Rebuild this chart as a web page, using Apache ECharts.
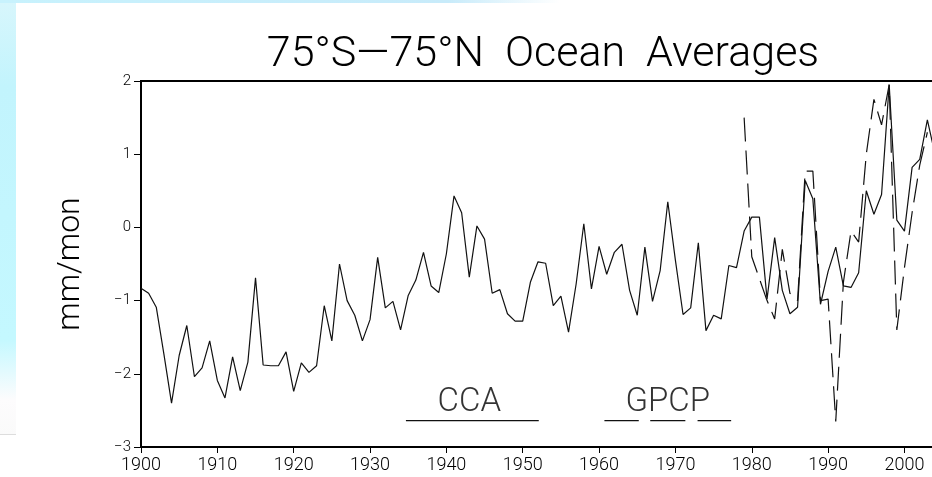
<!DOCTYPE html>
<html>
<head>
<meta charset="utf-8">
<title>75°S-75°N Ocean Averages</title>
<script src="https://cdn.jsdelivr.net/npm/echarts@6/dist/echarts.min.js"></script>
<style>
  html, body { margin: 0; padding: 0; background: #fff; }
  #chart { width: 932px; height: 477px; }
</style>
</head>
<body>
<div id="chart"></div>
<script>
// reconstruction (solid), one value per year from 1900
var reconStart = 1900;
var reconValues = [
    -0.83, -0.90, -1.09, -1.73, -2.40, -1.75, -1.34, -2.04, -1.92, -1.55,
    -2.09, -2.33, -1.77, -2.23, -1.84, -0.69, -1.88, -1.89, -1.89, -1.70,
    -2.24, -1.85, -1.98, -1.89, -1.07, -1.55, -0.50, -1.00, -1.20, -1.55,
    -1.26, -0.41, -1.10, -1.01, -1.40, -0.93, -0.72, -0.34, -0.80, -0.89,
    -0.36, 0.43, 0.20, -0.68, 0.02, -0.16, -0.90, -0.85, -1.18, -1.28,
    -1.28, -0.75, -0.47, -0.49, -1.07, -0.94, -1.43, -0.77, 0.05, -0.84,
    -0.26, -0.64, -0.34, -0.23, -0.86, -1.20, -0.27, -1.01, -0.59, 0.35,
    -0.45, -1.19, -1.10, -0.21, -1.41, -1.20, -1.25, -0.52, -0.55, -0.05,
    0.14, 0.14, -0.98, -0.14, -0.86, -1.18, -1.09, 0.64, 0.39, -1.05,
    -0.60, -0.27, -0.80, -0.82, -0.62, 0.50, 0.18, 0.45, 1.95, 0.10,
    -0.05, 0.82, 0.93, 1.47, 1.00
];

// GPCP (dashed), from 1979
var gpcpStart = 1979;
var gpcpValues = [
    1.50, -0.40, -0.70, -1.00, -1.25, -0.30, -0.90, -1.00, 0.77, 0.77,
    -1.00, -0.98, -2.65, -0.75, -0.05, -0.20, 1.00, 1.75, 1.40, 1.95,
    -1.40, -0.55, 0.20, 0.85, 1.30
];

// data periods drawn near the bottom
var ccaSpans = [[1934.7, 1952.1]];
var gpcpSpans = [[1960.7, 1965.2], [1966.7, 1971.3], [1972.9, 1977.3]];
var spanLevel = -2.64;
var periodNames = ['CCA', 'GPCP'];
var periodNameYears = [1943.0, 1969.0];
var periodNameLevel = -2.40;

function toPairs(start, vals) {
    return vals.map(function (v, i) { return [start + i, v]; });
}

function spansToLine(spans) {
    var out = [];
    spans.forEach(function (s, i) {
        if (i > 0) out.push(null);
        out.push([s[0], spanLevel], [s[1], spanLevel]);
    });
    return out;
}

var font = 'Roboto';
var myChart = echarts.init(document.getElementById('chart'));

myChart.setOption({
    animation: false,
    backgroundColor: '#fff',
    graphic: [
        {   // slide band on the left
            type: 'rect', silent: true,
            shape: { x: 0, y: 0, width: 16, height: 435 },
            style: {
                fill: new echarts.graphic.LinearGradient(0, 0, 0, 1, [
                    { offset: 0, color: '#d8f6fc' },
                    { offset: 0.2, color: '#c2f4fd' },
                    { offset: 0.78, color: '#c4f8ff' },
                    { offset: 0.92, color: '#fdfcfd' },
                    { offset: 1, color: '#fafafa' }
                ])
            }
        },
        {
            type: 'rect', silent: true,
            shape: { x: 0, y: 434, width: 16, height: 1 },
            style: { fill: '#dddddd' }
        },
        {   // slide band on top
            type: 'rect', silent: true,
            shape: { x: 0, y: 0, width: 560, height: 3 },
            style: {
                fill: new echarts.graphic.LinearGradient(0, 0, 1, 0, [
                    { offset: 0, color: '#c8f2fd' },
                    { offset: 0.8, color: '#c8ebfa' },
                    { offset: 1, color: '#ffffff' }
                ])
            }
        }
    ],
    title: {
        text: '75°S—75°N  Ocean  Averages',
        left: 538,
        textAlign: 'center',
        top: 29,
        textStyle: {
            fontFamily: font,
            fontWeight: 300,
            fontSize: 43,
            color: '#000'
        }
    },
    grid: {
        left: 141,
        right: -3,
        top: 81,
        bottom: 30,
        outerBoundsMode: 'none',
        containLabel: false,
        show: true,
        borderColor: '#000',
        borderWidth: 2,
        backgroundColor: 'transparent'
    },
    xAxis: {
        type: 'value',
        min: 1900,
        max: 2004,
        interval: 10,
        splitLine: { show: false },
        axisLine: { onZero: false, lineStyle: { color: '#000', width: 2 } },
        axisTick: { length: 6, lineStyle: { color: '#000', width: 1 } },
        axisLabel: {
            margin: 9,
            fontFamily: font,
            fontWeight: 300,
            fontSize: 18,
            color: '#000',
            formatter: function (v) { return v % 10 === 0 ? String(v) : ''; }
        }
    },
    yAxis: {
        type: 'value',
        min: -3,
        max: 2,
        interval: 1,
        name: 'mm/mon',
        nameLocation: 'middle',
        nameRotate: 90,
        nameGap: 54,
        nameTextStyle: {
            fontFamily: font,
            fontWeight: 300,
            fontSize: 32,
            color: '#000'
        },
        splitLine: { show: false },
        axisLine: { onZero: false, lineStyle: { color: '#000', width: 2 } },
        axisTick: { length: 7, lineStyle: { color: '#000', width: 1 } },
        axisLabel: {
            margin: 10,
            fontFamily: font,
            fontWeight: 300,
            fontSize: 15,
            color: '#000',
            formatter: function (v) { return v < 0 ? '\u2212' + Math.abs(v) : String(v); }
        }
    },
    series: [
        {
            name: 'Reconstruction',
            type: 'line',
            data: toPairs(reconStart, reconValues),
            symbol: 'none',
            lineStyle: { color: '#111', width: 1.2 }
        },
        {
            name: 'GPCP',
            type: 'line',
            data: toPairs(gpcpStart, gpcpValues),
            symbol: 'none',
            lineStyle: { color: '#111', width: 1.2, type: [24, 9] }
        },
        {
            name: 'periods',
            type: 'line',
            data: spansToLine(ccaSpans.concat(gpcpSpans)),
            connectNulls: false,
            symbol: 'none',
            lineStyle: { color: '#111', width: 1.2 }
        },
        {
            name: 'period names',
            type: 'scatter',
            symbolSize: 0,
            data: periodNames.map(function (n, i) {
                return { value: [periodNameYears[i], periodNameLevel], name: n };
            }),
            label: {
                show: true,
                position: 'inside',
                formatter: '{b}',
                fontFamily: font,
                fontWeight: 300,
                fontSize: 33,
                color: '#000'
            }
        }
    ]
});
</script>
</body>
</html>
